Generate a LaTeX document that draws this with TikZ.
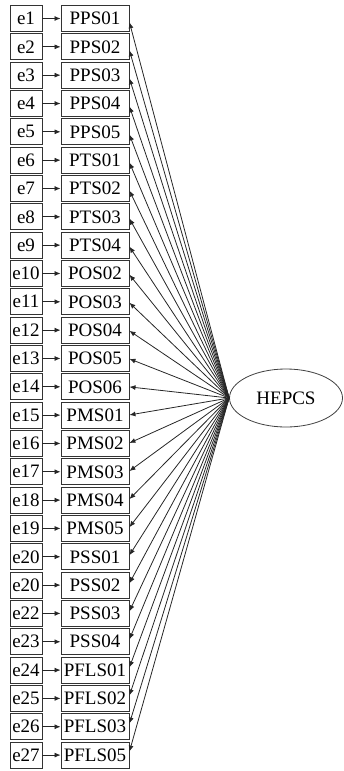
\documentclass[tikz,border=0pt]{standalone}
\usepackage{fontspec}
\setmainfont{Liberation Serif}
\usetikzlibrary{arrows.meta,calc,shapes.geometric}
\begin{document}
\begin{tikzpicture}[x=1pt,y=-1pt,
  txt/.style={font=\fontsize{19}{20}\selectfont},
  ebox/.style={txt,draw=black!80,line width=0.9pt,minimum width=32pt,minimum height=26pt,inner sep=0pt},
  ibox/.style={txt,draw=black!80,line width=0.9pt,minimum width=68pt,minimum height=26pt,inner sep=0pt},
  arr/.style={-{Latex[length=6pt,width=5pt]},line width=0.8pt,draw=black!85}]
\useasboundingbox (0,0) rectangle (343,771);
\node[txt,draw=black!75,line width=0.8pt,ellipse,minimum width=113pt,minimum height=58pt,inner sep=0pt] (hep) at (286,398) {HEPCS};
\foreach \e/\t [count=\i] in {e1/PPS01,e2/PPS02,e3/PPS03,e4/PPS04,e5/PPS05,e6/PTS01,e7/PTS02,e8/PTS03,e9/PTS04,e10/POS02,e11/POS03,e12/POS04,e13/POS05,e14/POS06,e15/PMS01,e16/PMS02,e17/PMS03,e18/PMS04,e19/PMS05,e20/PSS01,e20/PSS02,e22/PSS03,e23/PSS04,e24/PFLS01,e25/PFLS02,e26/PFLS03,e27/PFLS05}{
  \pgfmathsetmacro\yy{18.5+(\i-1)*28.33}
  \pgfmathsetmacro\off{0.01*(398-\yy)}
  \node[ebox] (e\i) at (26,\yy) {\e};
  \node[ibox] (v\i) at (95,\yy) {\t};
  \draw[arr] (e\i) -- (v\i);
  \draw[arr] (hep.west) -- ($(v\i.east)+(0,\off)$);
}
\end{tikzpicture}
\end{document}
